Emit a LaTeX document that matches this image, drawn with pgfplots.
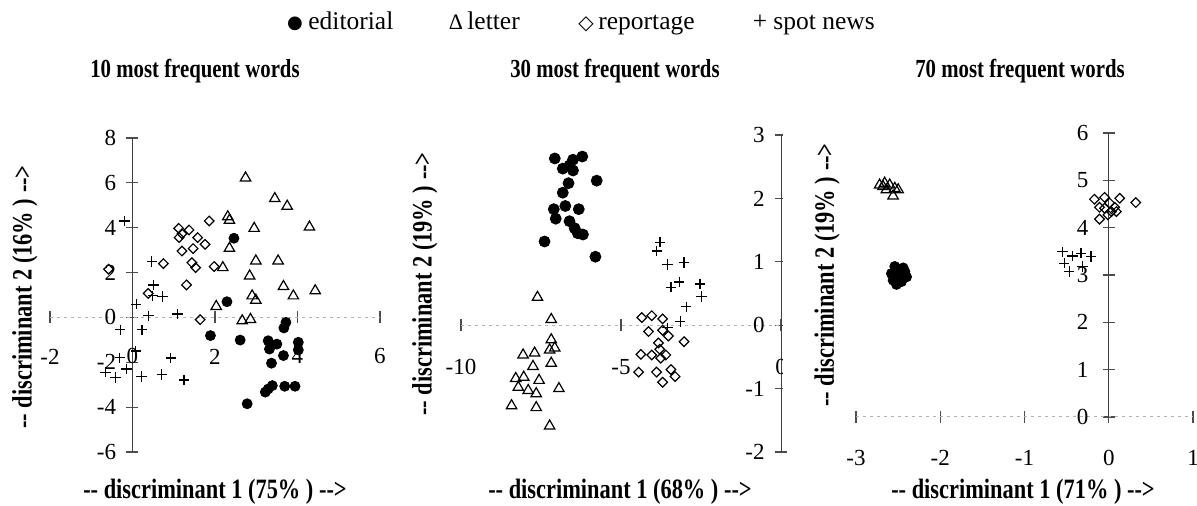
\documentclass[border=0pt]{standalone}
\usepackage{fontspec}
\setmainfont{Liberation Serif}
\newfontfamily\cond[FakeStretch=0.8]{Liberation Serif}
\newfontfamily\dejavu{DejaVu Sans}
\usepackage{pgfplots}
\pgfplotsset{compat=1.18}
\pgfplotsset{
  panel/.style={
    scale only axis,
    axis lines=middle,
    anchor=south west,
    enlargelimits=false,
    clip=false,
    hide obscured x ticks=false,
    hide obscured y ticks=false,
    x axis line style={-, gray!60, dash pattern=on 1.5pt off 2pt, line width=0.5pt},
    y axis line style={-, black!75, line width=0.5pt},
    xtick style={draw=black!70, solid, line width=0.6pt},
    ytick style={draw=black!70, solid, line width=0.6pt},
    major tick length=6pt,
    tick align=center,
    /pgf/number format/assume math mode=true,
    ticklabel style={font=\fontsize{11.5}{12}\selectfont, inner sep=0pt},
  },
  ed/.style={only marks, mark=*, mark size=2.5pt, black},
  le/.style={only marks, mark=triangle, mark size=3pt, black, mark options={line width=0.6pt}},
  re/.style={only marks, mark=square, mark size=1.7pt, black, mark options={rotate=45, line width=0.6pt}},
  sp/.style={only marks, mark=+, mark size=2.6pt, black, mark options={line width=0.6pt}},
}
\begin{document}
\begin{tikzpicture}
\path[use as bounding box] (0,0) rectangle (598.5pt,253pt);

% ---------- panel 1 ----------
\begin{axis}[panel, at={(25pt,27pt)}, width=165pt, height=157pt,
  xmin=-2, xmax=6, ymin=-6, ymax=8,
  xtick={-2,0,2,4,6}, ytick={-6,-4,-2,0,2,4,6,8},
  xticklabel style={anchor=center, yshift=-16.5pt},
  yticklabel style={anchor=east, xshift=-5pt}]
\addplot[ed] coordinates {(2.46,3.53)(2.29,0.70)(1.89,-0.81)(2.61,-1.01)(3.72,-0.22)(3.67,-0.47)(3.29,-1.04)(3.32,-1.41)(3.50,-1.19)(3.66,-1.70)(4.02,-1.11)(4.02,-1.45)(3.37,-2.04)(2.78,-3.85)(3.22,-3.33)(3.29,-3.19)(3.39,-3.04)(3.69,-3.07)(3.94,-3.07)};
\addplot[le] coordinates {(2.74,6.22)(3.45,5.30)(3.75,4.96)(2.31,4.49)(2.35,4.33)(2.95,3.97)(4.29,4.03)(2.35,3.08)(2.99,2.52)(3.53,2.52)(2.19,2.22)(2.84,1.85)(3.66,1.38)(3.90,0.96)(4.43,1.19)(2.90,0.96)(2.99,0.77)(2.03,0.49)(2.66,-0.15)(2.86,-0.09)};
\addplot[re] coordinates {(-0.58,2.15)(1.12,3.97)(1.20,3.73)(1.37,3.90)(1.13,3.56)(1.58,3.56)(1.76,3.26)(1.86,4.30)(1.20,2.96)(1.47,3.07)(1.44,2.44)(1.53,2.22)(1.98,2.27)(1.31,1.45)(1.64,-0.10)(0.75,2.40)(0.38,1.07)};
\addplot[sp] coordinates {(-0.19,4.30)(0.47,2.49)(0.51,1.45)(0.49,0.96)(0.73,0.93)(0.09,0.59)(0.39,0.07)(1.09,0.15)(-0.30,-0.55)(0.23,-0.55)(-0.31,-1.80)(0.08,-1.50)(0.93,-1.81)(-0.65,-2.44)(-0.41,-2.67)(-0.15,-2.30)(0.22,-2.64)(0.71,-2.55)(1.25,-2.79)};
\end{axis}

% ---------- panel 2 ----------
\begin{axis}[panel, at={(230.5pt,27pt)}, width=160pt, height=158.5pt,
  xmin=-10, xmax=0, ymin=-2, ymax=3,
  xtick={-10,-5,0}, ytick={-2,-1,0,1,2,3},
  xticklabel style={anchor=center, yshift=-18pt},
  yticklabel style={anchor=east, xshift=-5pt}]
\addplot[ed, mark size=2.75pt] coordinates {(-7.07,2.63)(-6.21,2.66)(-6.50,2.61)(-6.82,2.47)(-6.61,2.52)(-6.50,2.44)(-5.76,2.28)(-6.64,2.24)(-6.82,2.09)(-6.74,1.88)(-7.10,1.83)(-6.32,1.83)(-7.04,1.68)(-6.61,1.64)(-6.45,1.53)(-6.35,1.45)(-6.19,1.43)(-7.39,1.32)(-5.80,1.08)};
\addplot[le] coordinates {(-7.61,0.44)(-7.18,0.09)(-7.18,-0.23)(-7.07,-0.36)(-7.23,-0.39)(-8.06,-0.47)(-7.70,-0.44)(-7.75,-0.65)(-7.18,-0.60)(-8.29,-0.84)(-8.04,-0.82)(-7.56,-0.87)(-8.21,-0.98)(-7.90,-1.03)(-7.65,-1.08)(-6.94,-1.00)(-8.42,-1.27)(-7.65,-1.30)(-7.23,-1.59)};
\addplot[re] coordinates {(-4.35,0.12)(-4.04,0.15)(-3.70,0.10)(-4.14,-0.10)(-3.70,-0.08)(-3.52,-0.17)(-3.83,-0.28)(-3.03,-0.26)(-3.79,-0.38)(-3.60,-0.47)(-4.04,-0.47)(-4.38,-0.46)(-3.76,-0.52)(-4.45,-0.74)(-3.89,-0.74)(-3.44,-0.70)(-3.31,-0.81)(-3.70,-0.90)};
\addplot[sp] coordinates {(-3.78,1.31)(-3.88,1.17)(-3.55,0.96)(-3.03,0.99)(-3.18,0.68)(-3.44,0.60)(-2.53,0.65)(-2.48,0.45)(-2.96,0.29)(-3.15,0.06)(-3.55,-0.04)};
\end{axis}

\fill[white] (391.6pt,35pt) rectangle (598.5pt,195pt);

% ---------- panel 3 ----------
\begin{axis}[panel, at={(428pt,44.5pt)}, width=168.5pt, height=142pt,
  xmin=-3, xmax=1, ymin=0, ymax=6,
  xtick={-3,-2,-1,0,1}, ytick={0,1,2,3,4,5,6},
  xticklabel style={anchor=center, yshift=-17.5pt},
  yticklabel style={anchor=east, xshift=-7pt}]
\addplot[ed] coordinates {(-2.58,3.03)(-2.52,3.11)(-2.42,3.07)(-2.40,2.96)(-2.56,2.89)(-2.46,2.86)(-2.50,2.96)(-2.54,3.18)(-2.44,3.15)(-2.52,2.80)};
\addplot[le] coordinates {(-2.72,4.90)(-2.66,4.94)(-2.60,4.90)(-2.54,4.83)(-2.50,4.80)(-2.64,4.80)(-2.56,4.67)(-2.68,4.87)};
\addplot[re] coordinates {(-0.17,4.60)(-0.05,4.64)(0.13,4.62)(0.32,4.53)(-0.11,4.43)(0.01,4.52)(0.07,4.43)(0.03,4.34)(-0.11,4.18)(0.09,4.34)(-0.01,4.27)(-0.05,4.41)};
\addplot[sp] coordinates {(-0.55,3.49)(-0.33,3.46)(-0.47,3.07)(-0.53,3.25)(-0.43,3.40)(-0.21,3.39)(-0.31,3.18)};
\end{axis}

% ---------- titles ----------
\begin{scope}[every node/.style={inner sep=0pt, font=\cond\bfseries\fontsize{13}{13}\selectfont}]
\node[anchor=base] at (97.5pt,214pt) {10 most frequent words};
\node[anchor=base] at (307.5pt,214pt) {30 most frequent words};
\node[anchor=base] at (510pt,214pt) {70 most frequent words};
\end{scope}

% ---------- axis labels ----------
\begin{scope}[every node/.style={inner sep=0pt, font=\cond\bfseries\fontsize{14}{14}\selectfont}]
\node[anchor=base] at (107.5pt,3.5pt) {-- discriminant 1 (75\% ) -->};
\node[anchor=base] at (310pt,3.5pt) {-- discriminant 1 (68\% ) -->};
\node[anchor=base] at (511.5pt,3.5pt) {-- discriminant 1 (71\% ) -->};
\node[rotate=90] at (12.5pt,104.5pt) {-- discriminant 2 (16\% ) -->};
\node[rotate=90] at (212.5pt,111pt) {-- discriminant 2 (19\% ) -->};
\node[rotate=90] at (413.5pt,115.5pt) {-- discriminant 2 (19\% ) -->};
\end{scope}

% ---------- legend (text, as in the original) ----------
\begin{scope}[every node/.style={inner sep=0pt}]
\node at (147.5pt,241pt) {\dejavu\fontsize{9}{9}\selectfont ●};
\node[anchor=base west] at (154pt,238pt) {\fontsize{12.75}{13}\selectfont editorial};
\node[anchor=base] at (228pt,238pt) {\fontsize{11}{11}\selectfont Δ};
\node[anchor=base west] at (233.5pt,238pt) {\fontsize{12.75}{13}\selectfont letter};
\node at (293pt,241pt) {\dejavu\fontsize{10}{10}\selectfont ◇};
\node[anchor=base west] at (299pt,238pt) {\fontsize{12.75}{13}\selectfont reportage};
\node[anchor=base] at (380pt,238pt) {\fontsize{12.75}{13}\selectfont +};
\node[anchor=base west] at (386.5pt,238pt) {\fontsize{12.75}{13}\selectfont spot news};
\end{scope}
\end{tikzpicture}
\end{document}
